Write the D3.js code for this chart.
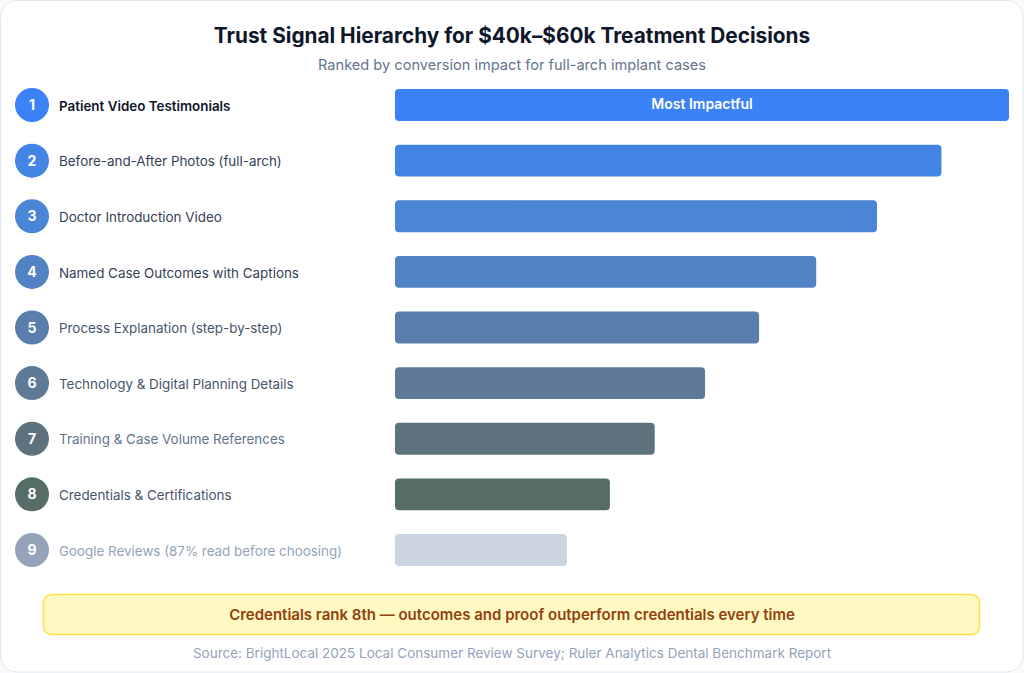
<!DOCTYPE html>
<html lang="en">
<head>
<meta charset="utf-8">
<title>Trust Signal Hierarchy</title>
<script src="https://cdn.jsdelivr.net/npm/d3@7"></script>
<style>
  html, body { margin: 0; padding: 0; background: #f8fafc; }
  body { width: 1024px; height: 673px; overflow: hidden; font-family: Inter, "Noto Sans", sans-serif; }
</style>
</head>
<body>
<div id="chart"></div>
<script>
// data
var ranks = [1, 2, 3, 4, 5, 6, 7, 8, 9];
var signals = [
  "Patient Video Testimonials",
  "Before-and-After Photos (full-arch)",
  "Doctor Introduction Video",
  "Named Case Outcomes with Captions",
  "Process Explanation (step-by-step)",
  "Technology & Digital Planning Details",
  "Training & Case Volume References",
  "Credentials & Certifications",
  "Google Reviews (87% read before choosing)"
];
var impact = [100, 89, 78.5, 68.6, 59.3, 50.5, 42.3, 35, 28];
var barColors = ["#3b82f6", "#4285e4", "#4a85d6", "#5182c4", "#5a7eab", "#5e7a96", "#5e727d", "#566c66", "#cbd5e1"];
var dotColors = ["#3b82f6", "#4285e4", "#4a85d6", "#5182c4", "#5a7eab", "#5e7a96", "#5e727d", "#566c66", "#94a3b8"];
var labelColors = ["#0f172a", "#334155", "#334155", "#334155", "#475569", "#475569", "#64748b", "#475569", "#94a3b8"];

var W = 1024, H = 673;

var svg = d3.select("#chart").append("svg")
  .attr("width", W).attr("height", H);

// card
svg.append("rect")
  .attr("x", 0.5).attr("y", 0.5)
  .attr("width", W - 1.5).attr("height", H - 1.5)
  .attr("rx", 16)
  .attr("fill", "#ffffff")
  .attr("stroke", "#e2e8f0");

svg.append("text")
  .attr("x", 512).attr("y", 43)
  .attr("text-anchor", "middle")
  .attr("font-size", 20.8).attr("font-weight", 700)
  .attr("fill", "#0f172a")
  .text("Trust Signal Hierarchy for $40k\u2013$60k Treatment Decisions");

svg.append("text")
  .attr("x", 512).attr("y", 70)
  .attr("text-anchor", "middle")
  .attr("font-size", 14.6)
  .attr("fill", "#64748b")
  .text("Ranked by conversion impact for full-arch implant cases");

var y = d3.scaleBand()
  .domain(ranks)
  .range([77.2, 577.8])
  .paddingInner(0.425)
  .paddingOuter(0.2125);

var x = d3.scaleLinear()
  .domain([0, 100])
  .range([395, 1009]);

var rows = svg.selectAll(".row")
  .data(ranks)
  .enter().append("g")
  .attr("class", "row")
  .attr("transform", function(d) { return "translate(0," + (y(d) + y.bandwidth() / 2) + ")"; });

rows.append("circle")
  .attr("cx", 32).attr("cy", 0).attr("r", 17)
  .attr("fill", function(d, i) { return dotColors[i]; });

rows.append("text")
  .attr("x", 32).attr("y", 0).attr("dy", "0.36em")
  .attr("text-anchor", "middle")
  .attr("font-size", 14).attr("font-weight", 700)
  .attr("fill", "#ffffff")
  .text(function(d) { return d; });

rows.append("text")
  .attr("x", 59).attr("y", 0).attr("dy", "0.42em")
  .attr("font-size", 13.4)
  .attr("font-weight", function(d, i) { return i === 0 ? 600 : 400; })
  .attr("fill", function(d, i) { return labelColors[i]; })
  .text(function(d, i) { return signals[i]; });

rows.append("rect")
  .attr("x", x(0))
  .attr("y", -y.bandwidth() / 2)
  .attr("width", function(d, i) { return x(impact[i]) - x(0); })
  .attr("height", y.bandwidth())
  .attr("rx", 4)
  .attr("fill", function(d, i) { return barColors[i]; });

// label inside the top bar
rows.filter(function(d) { return d === 1; })
  .append("text")
  .attr("x", (x(0) + x(impact[0])) / 2).attr("y", 0).attr("dy", "0.3em")
  .attr("text-anchor", "middle")
  .attr("font-size", 14).attr("font-weight", 600)
  .attr("fill", "#ffffff")
  .text("Most Impactful");

// callout
svg.append("rect")
  .attr("x", 43.5).attr("y", 594.5)
  .attr("width", 936).attr("height", 40)
  .attr("rx", 8)
  .attr("fill", "#fef9c3")
  .attr("stroke", "#fde047")
  .attr("stroke-width", 1.5);

svg.append("text")
  .attr("x", 512).attr("y", 614.5).attr("dy", "0.36em")
  .attr("text-anchor", "middle")
  .attr("font-size", 15).attr("font-weight", 600)
  .attr("fill", "#92400e")
  .text("Credentials rank 8th \u2014 outcomes and proof outperform credentials every time");

svg.append("text")
  .attr("x", 512).attr("y", 658)
  .attr("text-anchor", "middle")
  .attr("font-size", 13.5)
  .attr("fill", "#94a3b8")
  .text("Source: BrightLocal 2025 Local Consumer Review Survey; Ruler Analytics Dental Benchmark Report");
</script>
</body>
</html>
